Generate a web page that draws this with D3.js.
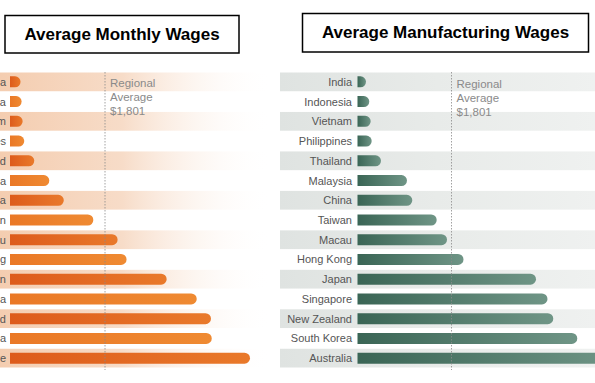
<!DOCTYPE html>
<html><head><meta charset="utf-8">
<script src="https://cdn.jsdelivr.net/npm/d3@7"></script>
<style>html,body{margin:0;padding:0;background:#fff;}svg{display:block;font-family:"Liberation Sans",Arial,sans-serif;}</style>
</head><body>
<svg id="c" width="595" height="383"></svg>
<script>
const leftCategories = ["India","Indonesia","Vietnam","Philippines","Thailand","Malaysia","China","Taiwan","Macau","Hong Kong","Japan","South Korea","New Zealand","Australia","Singapore"];
const leftValues = [200,220,240,270,460,745,1020,1580,2040,2210,2970,3540,3810,3825,4550];
const rightCategories = ["India","Indonesia","Vietnam","Philippines","Thailand","Malaysia","China","Taiwan","Macau","Hong Kong","Japan","Singapore","New Zealand","South Korea","Australia"];
const rightValues = [163,226,253,272,450,948,1050,1517,1715,2031,3420,3640,3751,4211,4950];
const regionalAverage = 1801;
const avgLabel = ["Regional","Average","$1,801"];
const titles = ["Average Monthly Wages","Average Manufacturing Wages"];

const svg = d3.select("#c");
const defs = svg.append("defs");
function lin(id, stops, attrs){
  const g = defs.append("linearGradient").attr("id", id);
  Object.entries(attrs||{}).forEach(([k,v])=>g.attr(k,v));
  stops.forEach(s=>g.append("stop").attr("offset",s[0]).attr("stop-color",s[1]).attr("stop-opacity",s[2]===undefined?1:s[2]));
}
lin("bandL", [[0,"#f4cdb0"],[0.45,"#f7dcc8"],[1,"#ffffff",0]]);
lin("bandR", [[0,"#dfe3e1"],[0.5,"#e8ebe9"],[1,"#eff1f0"]]);
lin("barO1", [[0,"#dd5b1b"],[1,"#e9792a"]]);
lin("barO2", [[0,"#ea7826"],[1,"#ef8a32"]]);
lin("barG", [[0,"#3a6555"],[1,"#6f9586"]]);

const y = d3.scaleBand().domain(d3.range(15)).range([72, 368]).paddingInner(0);
const barH = 11;

function rbar(x0, x1, yc, h){
  const r = Math.min(h/2, (x1-x0));
  const t = yc - h/2, b = yc + h/2;
  return `M${x0},${t}H${x1-r}A${r},${r} 0 0 1 ${x1},${t+r}V${b-r}A${r},${r} 0 0 1 ${x1-r},${b}H${x0}Z`;
}

function panel(cfg){
  const g = svg.append("g");
  const x = d3.scaleLinear().domain([0, regionalAverage]).range([cfg.x0, cfg.avgX]);
  // bands
  g.selectAll("rect.band").data(cfg.cats.map((c,i)=>i).filter(i=>i%2===0)).join("rect")
    .attr("x", cfg.bandX0).attr("width", cfg.bandX1-cfg.bandX0)
    .attr("y", i=>y(i)+0.5).attr("height", y.bandwidth()-1)
    .attr("fill", `url(#${cfg.band})`);
  // labels
  g.selectAll("text.lab").data(cfg.cats).join("text")
    .attr("x", cfg.labelX).attr("y", (d,i)=>y(i)+y.bandwidth()/2+4)
    .attr("text-anchor","end").attr("font-size",11).attr("fill","#555").text(d=>d);
  // bars
  g.selectAll("path.bar").data(cfg.vals).join("path")
    .attr("d",(d,i)=>rbar(x(0), x(d), y(i)+y.bandwidth()/2, barH))
    .attr("fill",(d,i)=>cfg.barFill(i));
  // average line
  g.append("line").attr("x1",x(regionalAverage)).attr("x2",x(regionalAverage))
    .attr("y1",72).attr("y2",370).attr("stroke","#8a8a8a").attr("stroke-width",0.8)
    .attr("stroke-dasharray","1.5,1.5");
  g.selectAll("text.avg").data(avgLabel).join("text")
    .attr("x", x(regionalAverage)+5).attr("y",(d,i)=>cfg.avgY+i*14)
    .attr("font-size",11.5).attr("fill","#8a8a8a").text(d=>d);
  // title box
  g.append("rect").attr("x",cfg.box[0]).attr("y",cfg.box[1]).attr("width",cfg.box[2]).attr("height",cfg.box[3])
    .attr("fill","#fff").attr("stroke","#000").attr("stroke-width",1.5);
  g.append("text").attr("x",cfg.box[0]+cfg.box[2]/2).attr("y",cfg.titleY)
    .attr("text-anchor","middle").attr("font-size",17).attr("font-weight","bold").attr("fill","#000").text(cfg.title);
}

panel({cats:leftCategories, vals:leftValues, x0:10, avgX:105, bandX0:0, bandX1:272, band:"bandL",
  labelX:6, barFill:i=>i%2===0?"url(#barO1)":"url(#barO2)", avgY:87,
  box:[5,15.5,234,37.5], titleY:39.5, title:titles[0]});
panel({cats:rightCategories, vals:rightValues, x0:357.5, avgX:451.5, bandX0:280, bandX1:595, band:"bandR",
  labelX:352, barFill:i=>"url(#barG)", avgY:88,
  box:[302.5,13.5,286,38.5], titleY:37.5, title:titles[1]});
</script>
</body></html>
